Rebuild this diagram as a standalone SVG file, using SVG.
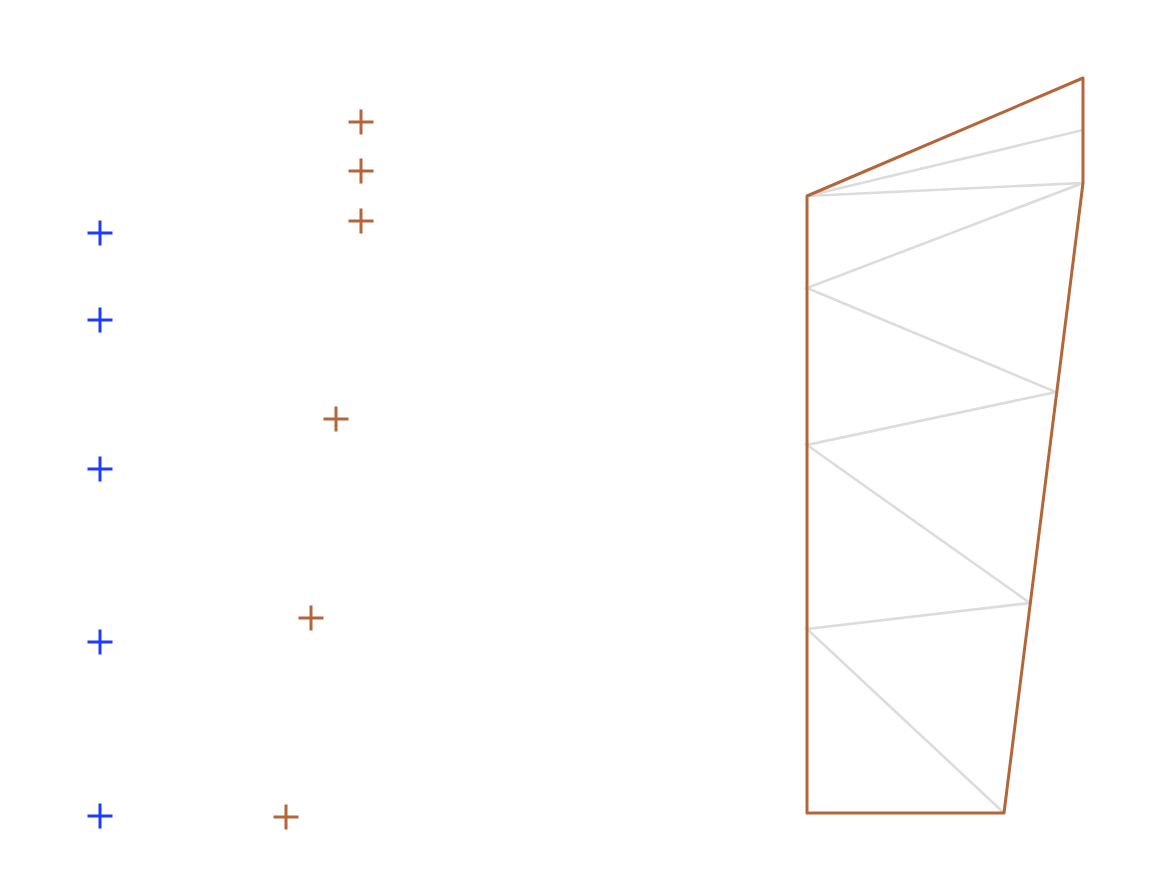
<svg xmlns="http://www.w3.org/2000/svg" width="1153" height="886" viewBox="0 0 1153 886">
<style>
.b{stroke:#1f3bff;stroke-width:3;fill:none}
.o{stroke:#b4663a;stroke-width:3;fill:none}
.g{stroke:#dcdcdc;stroke-width:2.6;fill:none}
</style>
<defs>
<path id="x" d="M-12.5,0H12.5M0,-12.5V12.5"/>
</defs>
<rect width="1153" height="886" fill="#fff"/>
<g id="blue-points" class="b">
<use href="#x" x="100" y="233"/>
<use href="#x" x="100" y="320"/>
<use href="#x" x="100" y="469"/>
<use href="#x" x="100" y="642"/>
<use href="#x" x="100" y="816"/>
</g>
<g id="brown-points" class="o">
<use href="#x" x="361" y="122"/>
<use href="#x" x="361" y="171"/>
<use href="#x" x="361" y="221"/>
<use href="#x" x="336" y="419"/>
<use href="#x" x="311" y="618"/>
<use href="#x" x="286" y="817"/>
</g>
<g id="triangulation" class="g">
<path d="M807,196L1083,130M807,196L1083,183L807,288L1056,392L807,445L1030,603L807,629L1004,813"/>
</g>
<g id="outline" class="o">
<path d="M807,813V196L1083,78V183L1004,813Z" stroke-linejoin="round"/>
</g>
</svg>
